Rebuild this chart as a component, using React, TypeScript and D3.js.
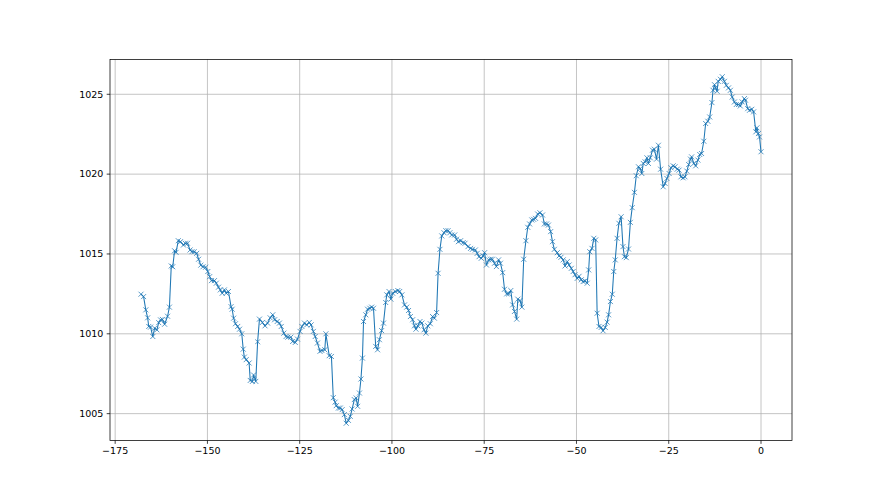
import React from "react";
import * as d3 from "d3";

const xs: number[] = [
  -168.0, -167.3, -166.7, -166.2, -165.9, -165.4, -164.8, -164.3, -163.7, -163.2, -162.7, -162.2, -161.6, -160.8, -160.3,
  -159.8, -159.4, -158.9, -158.5, -157.9, -157.3, -156.5, -156.0, -155.4, -154.7, -154.2, -153.6, -152.9, -152.4, -151.8,
  -151.2, -150.5, -149.9, -149.4, -148.9, -148.1, -147.6, -147.0, -146.5, -146.0, -145.4, -144.9, -144.3, -143.6, -143.3,
  -142.9, -142.4, -141.8, -141.3, -140.7, -140.3, -140.0, -139.5, -138.7, -138.4, -137.8, -137.5, -136.9, -136.4, -135.9,
  -135.1, -134.4, -133.7, -133.0, -132.3, -131.8, -131.1, -130.5, -130.0, -129.3, -128.7, -128.2, -127.4, -126.9, -126.2,
  -125.6, -124.9, -124.4, -123.7, -123.1, -122.4, -121.9, -121.3, -120.8, -120.2, -119.5, -119.0, -118.2, -117.9, -117.0,
  -116.4, -115.9, -115.4, -115.1, -114.5, -114.0, -113.5, -112.9, -112.4, -111.8, -111.3, -110.8, -110.2, -109.7, -109.3,
  -108.8, -108.4, -108.0, -107.7, -107.1, -106.6, -106.0, -105.5, -105.0, -104.4, -103.9, -103.4, -102.8, -102.3, -101.7,
  -101.4, -100.8, -100.3, -99.8, -99.1, -98.4, -97.9, -97.3, -96.6, -96.0, -95.5, -95.0, -94.4, -93.9, -93.5,
  -93.0, -92.4, -91.9, -91.3, -90.8, -90.3, -89.6, -89.0, -88.5, -87.9, -87.5, -87.0, -86.5, -85.9, -85.4,
  -84.8, -84.3, -83.8, -83.0, -82.5, -82.0, -81.4, -80.7, -80.2, -79.4, -78.7, -78.2, -77.4, -76.9, -76.4,
  -75.8, -75.3, -74.9, -74.4, -73.8, -73.3, -72.8, -72.2, -71.7, -71.1, -70.6, -70.0, -69.5, -68.9, -68.4,
  -67.8, -67.3, -66.8, -66.2, -65.9, -65.3, -64.8, -64.3, -63.7, -63.2, -62.7, -62.1, -61.6, -61.1, -60.5,
  -59.9, -59.2, -58.7, -58.1, -57.6, -57.0, -56.5, -56.0, -55.2, -54.7, -54.2, -53.6, -53.1, -52.5, -52.0,
  -51.4, -50.9, -50.4, -49.8, -49.3, -48.7, -48.2, -47.7, -47.1, -46.7, -46.4, -45.8, -45.3, -44.8, -44.4,
  -43.9, -43.3, -42.8, -42.2, -41.7, -41.3, -40.8, -40.3, -39.9, -39.5, -39.0, -38.5, -37.9, -37.4, -37.0,
  -36.5, -35.9, -35.4, -34.9, -34.3, -33.8, -33.2, -32.7, -32.3, -31.9, -31.4, -30.9, -30.5, -30.0, -29.4,
  -28.9, -28.3, -27.8, -27.2, -26.5, -26.0, -25.5, -24.9, -24.4, -23.8, -23.3, -22.7, -22.2, -21.7, -21.1,
  -20.6, -20.1, -19.6, -19.1, -18.8, -18.2, -17.7, -17.1, -16.6, -16.1, -15.5, -15.0, -14.4, -13.9, -13.3,
  -13.0, -12.6, -12.3, -11.9, -11.6, -11.0, -10.5, -9.9, -9.4, -8.8, -8.3, -7.8, -7.2, -6.7, -6.1,
  -5.6, -5.1, -4.5, -4.2, -3.6, -3.1, -2.5, -2.0, -1.4, -1.1, -0.7, -0.4, 0.0,
];

const pressure: number[] = [
  1012.48, 1012.33, 1011.5, 1011.0, 1010.46, 1010.42, 1009.83, 1010.35, 1010.25, 1010.7, 1010.87, 1010.9, 1010.6, 1011.1, 1011.67,
  1014.25, 1014.2, 1015.2, 1015.1, 1015.83, 1015.77, 1015.56, 1015.67, 1015.67, 1015.25, 1015.14, 1015.14, 1015.04, 1014.67, 1014.3,
  1014.2, 1014.17, 1013.9, 1013.58, 1013.33, 1013.33, 1013.17, 1012.92, 1012.75, 1012.54, 1012.75, 1012.54, 1012.65, 1011.7, 1011.54,
  1010.98, 1010.63, 1010.46, 1010.29, 1010.0, 1009.04, 1008.54, 1008.38, 1008.17, 1007.08, 1007.02, 1007.42, 1007.02, 1009.5, 1010.92,
  1010.71, 1010.5, 1010.67, 1011.0, 1011.19, 1010.88, 1010.77, 1010.67, 1010.46, 1010.04, 1009.83, 1009.79, 1009.79, 1009.52, 1009.46,
  1009.67, 1010.15, 1010.46, 1010.67, 1010.56, 1010.71, 1010.56, 1010.15, 1009.83, 1009.42, 1008.9, 1008.96, 1009.0, 1010.0, 1008.63,
  1008.58, 1006.0, 1005.72, 1005.5, 1005.35, 1005.35, 1005.25, 1004.94, 1004.4, 1004.58, 1004.83, 1005.29, 1005.88, 1005.98, 1005.46,
  1006.29, 1007.17, 1008.48, 1010.77, 1011.19, 1011.54, 1011.6, 1011.67, 1011.6, 1009.21, 1009.0, 1009.63, 1010.2, 1010.67, 1011.96,
  1012.44, 1012.65, 1012.17, 1012.54, 1012.65, 1012.71, 1012.65, 1012.44, 1011.81, 1011.67, 1011.46, 1011.08, 1010.88, 1010.5, 1010.29,
  1010.5, 1010.77, 1010.67, 1010.25, 1010.04, 1010.5, 1010.63, 1011.08, 1010.98, 1011.33, 1013.79, 1015.29, 1016.13, 1016.33, 1016.46,
  1016.46, 1016.33, 1016.19, 1016.19, 1015.92, 1015.77, 1015.83, 1015.71, 1015.67, 1015.46, 1015.35, 1015.29, 1015.25, 1015.04, 1014.83,
  1014.73, 1014.88, 1015.08, 1014.31, 1014.63, 1014.67, 1014.67, 1014.42, 1014.21, 1014.63, 1014.42, 1013.83, 1012.79, 1012.5, 1012.5,
  1012.71, 1011.81, 1011.4, 1010.92, 1012.17, 1012.08, 1011.67, 1014.67, 1015.83, 1016.67, 1016.88, 1017.13, 1017.17, 1017.23, 1017.5,
  1017.58, 1017.44, 1016.88, 1016.88, 1016.81, 1016.4, 1015.77, 1015.29, 1015.08, 1014.88, 1014.79, 1014.63, 1014.25, 1014.52, 1014.31,
  1014.1, 1013.9, 1013.7, 1013.47, 1013.6, 1013.38, 1013.27, 1013.31, 1013.17, 1014.0, 1015.14, 1015.35, 1015.98, 1015.88, 1011.29,
  1010.46, 1010.4, 1010.19, 1010.4, 1010.73, 1011.19, 1012.02, 1012.48, 1013.9, 1014.63, 1015.98, 1016.92, 1017.33, 1015.46, 1014.83,
  1014.77, 1015.31, 1016.98, 1017.9, 1018.86, 1019.9, 1020.46, 1020.35, 1020.04, 1020.67, 1020.77, 1021.02, 1020.67, 1021.02, 1021.5,
  1021.56, 1020.94, 1021.81, 1020.31, 1019.21, 1019.42, 1019.73, 1020.04, 1020.4, 1020.52, 1020.46, 1020.31, 1020.25, 1019.83, 1019.77,
  1019.83, 1020.19, 1020.6, 1020.94, 1021.08, 1020.67, 1020.52, 1020.88, 1021.23, 1021.29, 1022.06, 1023.17, 1023.31, 1023.58, 1024.48,
  1025.25, 1025.6, 1025.4, 1025.19, 1025.81, 1025.94, 1026.1, 1025.81, 1025.56, 1025.4, 1025.25, 1024.83, 1024.52, 1024.36, 1024.36,
  1024.27, 1024.52, 1024.73, 1024.63, 1024.1, 1024.0, 1024.06, 1023.9, 1022.65, 1022.9, 1022.54, 1022.33, 1021.4,
];

const xTicks: number[] = [-175, -150, -125, -100, -75, -50, -25, 0];
const yTicks: number[] = [1005, 1010, 1015, 1020, 1025];

const W = 880;
const H = 495;
const M = { left: 110, right: 792, top: 59.4, bottom: 440.55 };
const COLOR = "#1f77b4";
const FONT = "DejaVu Sans, sans-serif";
const MS = 2.5;

const fmt = (v: number) => (v < 0 ? "\u2212" + Math.abs(v) : String(v));

export default function App() {
  const data = xs.map((x, i) => ({ x, y: pressure[i] }));
  const [xmin, xmax] = d3.extent(xs) as [number, number];
  const [ymin, ymax] = d3.extent(pressure) as [number, number];
  const xpad = (xmax - xmin) * 0.05;
  const ypad = (ymax - ymin) * 0.05;
  const x = d3.scaleLinear().domain([xmin - xpad, xmax + xpad]).range([M.left, M.right]);
  const y = d3.scaleLinear().domain([ymin - ypad, ymax + ypad]).range([M.bottom, M.top]);
  const line = d3
    .line<{ x: number; y: number }>()
    .x((d) => x(d.x))
    .y((d) => y(d.y));

  return (
    <svg
      width={W}
      height={H}
      style={{ position: "absolute", left: 0, top: 0, background: "#fff" }}
      fontFamily={FONT}
    >
      <rect x={0} y={0} width={W} height={H} fill="#fff" />
      <g stroke="#b0b0b0" strokeWidth={0.75}>
        {xTicks.map((t) => (
          <line key={"gx" + t} x1={x(t)} x2={x(t)} y1={M.top} y2={M.bottom} />
        ))}
        {yTicks.map((t) => (
          <line key={"gy" + t} x1={M.left} x2={M.right} y1={y(t)} y2={y(t)} />
        ))}
      </g>
      <path d={line(data) || ""} fill="none" stroke={COLOR} strokeWidth={1.05} strokeLinejoin="round" />
      <g stroke={COLOR} strokeWidth={0.75}>
        {data.map((d, i) => (
          <path
            key={i}
            d={`M${x(d.x) - MS},${y(d.y) - MS}L${x(d.x) + MS},${y(d.y) + MS}M${x(d.x) - MS},${y(d.y) + MS}L${x(d.x) + MS},${y(d.y) - MS}`}
          />
        ))}
      </g>
      <rect
        x={M.left}
        y={M.top}
        width={M.right - M.left}
        height={M.bottom - M.top}
        fill="none"
        stroke="#000"
        strokeWidth={0.75}
      />
      <g>
        {xTicks.map((t) => (
          <g key={"xt" + t} transform={`translate(${x(t)},${M.bottom})`}>
            <line y1={0} y2={3.3} stroke="#000" strokeWidth={0.75} />
            <text y={13.5} textAnchor="middle" fontSize={9.5} fill="#000">
              {fmt(t)}
            </text>
          </g>
        ))}
      </g>
      <g>
        {yTicks.map((t) => (
          <g key={"yt" + t} transform={`translate(${M.left},${y(t)})`}>
            <line x1={0} x2={-3.3} stroke="#000" strokeWidth={0.75} />
            <text x={-6.6} dy="0.35em" textAnchor="end" fontSize={9.5} fill="#000">
              {fmt(t)}
            </text>
          </g>
        ))}
      </g>
    </svg>
  );
}
